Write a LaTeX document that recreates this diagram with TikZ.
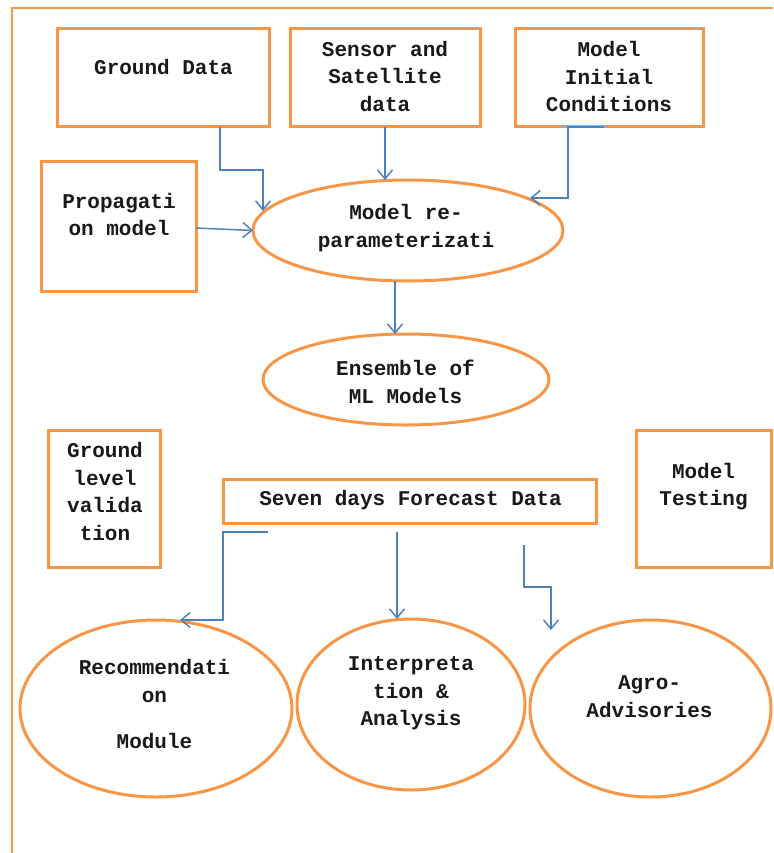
\documentclass[tikz,border=0pt]{standalone}
\usepackage{fontspec}
\setmonofont{Liberation Mono}
\usetikzlibrary{shapes.geometric,arrows.meta,calc}
\definecolor{orng}{RGB}{247,150,70}
\definecolor{blu}{RGB}{79,129,189}
\begin{document}
\begin{tikzpicture}[x=1pt,y=-1pt,
  box/.style={draw=orng, line width=3pt, rectangle, inner sep=0pt, outer sep=0pt},
  ell/.style={draw=orng, line width=3pt, ellipse, inner sep=0pt, outer sep=0pt},
  txt/.style={font=\ttfamily\bfseries\fontsize{21}{27.5}\selectfont, align=center, inner sep=0pt, text=black!90},
  arr/.style={draw=blu, line width=1.5pt, -{Straight Barb[length=9pt,width=15pt]}}]
\useasboundingbox (0,0) rectangle (773,853);
% outer frame
\draw[orng, line width=2.5pt] (773,8) -- (12,8) -- (12,853);
% boxes
\node[box, minimum width=212pt, minimum height=98pt] (gd) at (163,78) {};
\node[box, minimum width=190pt, minimum height=98pt] (ss) at (385,78) {};
\node[box, minimum width=188pt, minimum height=98pt] (mic) at (609,78) {};
\node[box, minimum width=155pt, minimum height=129pt] (pm) at (118.5,226.5) {};
\node[ell, minimum width=310pt, minimum height=101pt] (mrp) at (408,230.5) {};
\node[ell, minimum width=286pt, minimum height=91pt] (ens) at (406,379.5) {};
\node[box, minimum width=112pt, minimum height=137pt] (glv) at (104,498.5) {};
\node[box, minimum width=373pt, minimum height=44pt] (sdf) at (409.5,501) {};
\node[box, minimum width=135pt, minimum height=137pt] (mt) at (703.5,498.5) {};
\node[ell, minimum width=272pt, minimum height=177pt] (rec) at (156,708.5) {};
\node[ell, minimum width=228pt, minimum height=171pt] (inter) at (411,704.5) {};
\node[ell, minimum width=241pt, minimum height=177pt] (agro) at (650.5,708.5) {};
% texts
\node[txt] (tgd) at (163.5,67) {Ground Data};
\node[txt] (tss) at (385,76) {Sensor and\\Satellite\\data};
\node[txt] (tmic) at (609,76.5) {Model\\Initial\\Conditions};
\node[txt] (tpm) at (119,214.5) {Propagati\\on model};
\node[txt] (tmrp) at (406,228) {Model re-\\parameterizati};
\node[txt] (tens) at (405.5,382) {Ensemble of\\ML Models};
\node[txt] (tglv) at (105,491.5) {Ground\\level\\valida\\tion};
\node[txt] (tsdf) at (410.5,500) {Seven days Forecast Data};
\node[txt] (tmt) at (703.5,486.5) {Model\\Testing};
\node[txt] (trec) at (154.5,704) {Recommendati\\on\\[19pt]Module};
\node[txt] (tint) at (411,693.5) {Interpreta\\tion \&\\Analysis};
\node[txt] (tagro) at (649.5,696.5) {Agro-\\Advisories};
% connectors
\draw[arr] ($(gd.south)+(57,0)$) -- ($(gd.south)+(57,43)$) -- ($(mrp.center)+(-145,-60.5)$) -- ($(mrp.center)+(-145,-19.5)$);
\draw[arr] (ss.south) -- (ss.south |- mrp.north);
\draw[arr] ($(mic.south)+(-5,0)$) -- ($(mic.south)+(-41,0)$) -- ($(mrp.center)+(160,-32.5)$) -- ($(mrp.center)+(122,-32.5)$);
\draw[arr] ($(pm.east)+(0,1.5)$) -- (mrp.west);
\draw[arr] ($(mrp.south)+(-13,0)$) -- ($(ens.north)+(-11,0)$);
\draw[arr] ($(sdf.south)+(-141.5,9)$) -- ($(sdf.south)+(-186.5,9)$) -- ($(rec.north)+(67,0)$) -- ($(rec.north)+(24,0)$);
\draw[arr] ($(sdf.south)+(-12.5,9)$) -- ($(inter.north)+(-14,0)$);
\coordinate (agroin) at (551,630);
\draw[arr] ($(sdf.south)+(114.5,22)$) -- ($(sdf.south)+(114.5,64)$) -- (agroin |- {$(sdf.south)+(0,64)$}) -- (agroin);
\end{tikzpicture}
\end{document}
